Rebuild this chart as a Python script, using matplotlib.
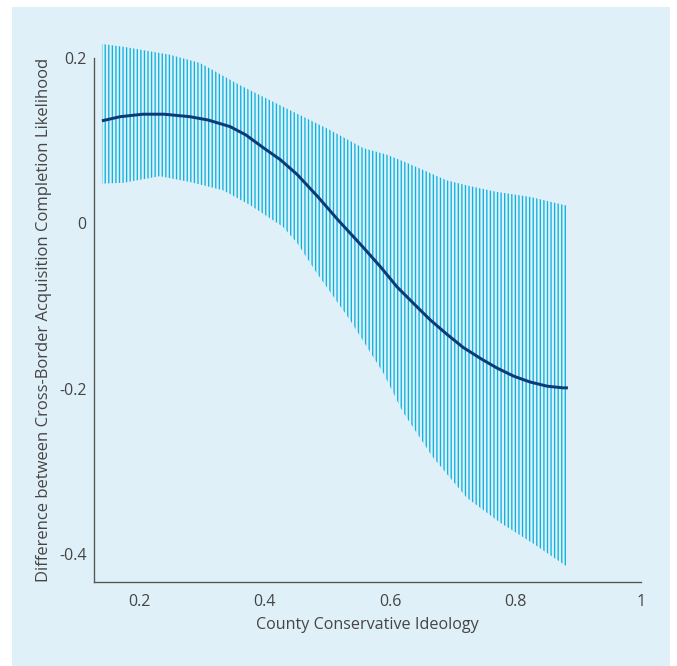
import matplotlib
matplotlib.use("Agg")
import matplotlib.pyplot as plt
from matplotlib.patches import Rectangle

# ---- data ----
x_line = [0.141, 0.170, 0.206, 0.240, 0.281, 0.310, 0.345, 0.370, 0.397, 0.425, 0.452,
          0.485, 0.517, 0.557, 0.585, 0.611, 0.640, 0.664, 0.690, 0.716, 0.745, 0.770,
          0.797, 0.823, 0.850, 0.875, 0.883]
y_line = [0.124, 0.129, 0.132, 0.132, 0.129, 0.125, 0.117, 0.107, 0.092, 0.077, 0.059,
          0.032, 0.004, -0.029, -0.053, -0.077, -0.099, -0.117, -0.134, -0.150, -0.164, -0.175,
          -0.185, -0.192, -0.197, -0.199, -0.199]

x_upper = [0.141, 0.180, 0.249, 0.297, 0.361, 0.440, 0.504, 0.557, 0.595, 0.627, 0.663,
           0.690, 0.727, 0.770, 0.823, 0.883]
y_upper = [0.217, 0.213, 0.204, 0.194, 0.167, 0.137, 0.113, 0.091, 0.083, 0.073, 0.061,
           0.052, 0.045, 0.038, 0.032, 0.021]

x_lower = [0.141, 0.175, 0.233, 0.281, 0.334, 0.377, 0.429, 0.452, 0.483, 0.536, 0.589,
           0.620, 0.668, 0.722, 0.775, 0.827, 0.883]
y_lower = [0.048, 0.049, 0.057, 0.050, 0.040, 0.022, -0.004, -0.024, -0.060, -0.117, -0.181,
           -0.228, -0.283, -0.332, -0.362, -0.387, -0.416]

x_ticks = [0.2, 0.4, 0.6, 0.8, 1.0]
x_ticklabels = ["0.2", "0.4", "0.6", "0.8", "1"]
y_ticks = [0.2, 0.0, -0.2, -0.4]
y_ticklabels = ["0.2", "0", "-0.2", "-0.4"]

xlabel = "County Conservative Ideology"
ylabel = "Difference between Cross-Border Acquisition Completion Likelihood"

# ---- style ----
DPI = 107
BG = "#dff0f8"
BAND = "#0cb3df"
LINE = "#0b3a78"
TEXT = "#454545"

plt.rcParams["font.family"] = ["Open Sans", "DejaVu Sans"]
plt.rcParams["hatch.linewidth"] = 0.9

fig = plt.figure(figsize=(677 / DPI, 666 / DPI), dpi=DPI, facecolor="white")
fig.patches.append(Rectangle((12 / 677, 0), (670 - 12) / 677, 1 - 7 / 666,
                             transform=fig.transFigure, facecolor=BG,
                             edgecolor="none", zorder=-10))

ax = fig.add_axes([94 / 677, 1 - 581.7 / 666, (641.4 - 94) / 677, (581.7 - 58) / 666])
ax.set_facecolor("none")

# band as a polygon hatched with vertical lines
bx = list(x_upper) + list(reversed(x_lower))
by = list(y_upper) + list(reversed(y_lower))
ax.fill(bx, by, facecolor="none", edgecolor=BAND, linewidth=0,
        hatch="|||||", clip_on=False)

ax.plot(x_line, y_line, color=LINE, lw=2.0, solid_capstyle="butt", clip_on=False)

ax.set_xlim(0.2 - 45 / 628, 1.0)
ax.set_ylim(-0.4335, 0.2)

for s in ["top", "right"]:
    ax.spines[s].set_visible(False)
for s in ["left", "bottom"]:
    ax.spines[s].set_color("#555555")
    ax.spines[s].set_linewidth(0.9)

ax.set_xticks(x_ticks)
ax.set_xticklabels(x_ticklabels)
ax.set_yticks(y_ticks)
ax.set_yticklabels(y_ticklabels)
ax.tick_params(axis="both", length=0, labelsize=10.8, labelcolor=TEXT)
ax.tick_params(axis="x", pad=8)
ax.tick_params(axis="y", pad=5)

ax.set_xlabel(xlabel, fontsize=10.9, color=TEXT, labelpad=5)
ax.set_ylabel(ylabel, fontsize=11.2, color=TEXT, labelpad=5)

fig.savefig("out.png", dpi=DPI, facecolor="white")
